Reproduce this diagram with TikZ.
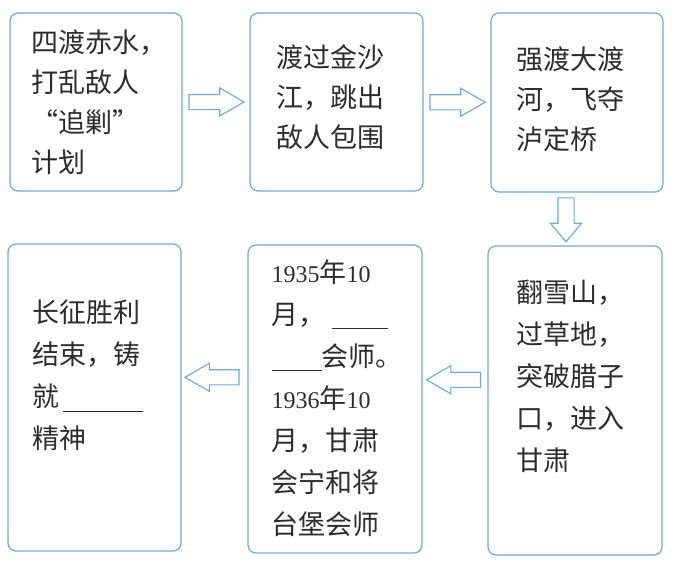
\documentclass[tikz,border=0pt]{standalone}
\usepackage{fontspec}
\setmainfont{Noto Sans CJK SC}
\newfontfamily\numfontfam{Liberation Serif}
\newcommand{\nm}[1]{{\numfontfam\fontsize{24}{40}\selectfont #1}}
\usetikzlibrary{shapes.arrows}
\definecolor{lineblue}{RGB}{105,172,218}
\definecolor{txtgray}{RGB}{45,45,45}
\begin{document}
\begin{tikzpicture}[x=1pt,y=-1pt,
 box/.style={draw=lineblue, line width=1.2pt, rounded corners=8pt, fill=white, inner sep=0pt},
 txt/.style={anchor=base west, inner sep=0pt, text width=150pt, align=left, text=txtgray},
 toptxt/.style={txt, font=\fontsize{27}{40}\selectfont},
 bottxt/.style={txt, font=\fontsize{27}{42}\selectfont},
 barrow/.style={single arrow, draw=lineblue, line width=1.1pt, fill=white, inner sep=0pt,
   text height=14pt, text depth=0pt, text width=14pt,
   minimum height=55pt, single arrow head extend=6.5pt,
   single arrow tip angle=60, single arrow head indent=0pt},
 darrow/.style={barrow, text height=15pt, text width=15pt, minimum height=44pt,
   single arrow head extend=7.5pt, single arrow tip angle=80, shape border rotate=270},
 larrow/.style={barrow, minimum height=54pt, shape border rotate=180}
]
\path[use as bounding box] (0,0) rectangle (676,565);

\node[box, minimum width=172pt, minimum height=178pt] (b1) at (96,102) {};
\node[box, minimum width=173pt, minimum height=178pt] (b2) at (336.5,102) {};
\node[box, minimum width=172pt, minimum height=179pt] (b3) at (577,102.5) {};
\node[box, minimum width=174pt, minimum height=309pt] (b4) at (575,400.5) {};
\node[box, minimum width=174pt, minimum height=308pt] (b5) at (335,399) {};
\node[box, minimum width=173pt, minimum height=307pt] (b6) at (94.5,397.5) {};

\node[toptxt] (t1) at ([shift={(22,40)}]b1.north west)
  {四渡赤水，\\打乱敌人\\“追剿”\\计划};
\node[toptxt] (t2) at ([shift={(27,55)}]b2.north west)
  {渡过金沙\\江，跳出\\敌人包围};
\node[toptxt] (t3) at ([shift={(26,57)}]b3.north west)
  {强渡大渡\\河，飞夺\\泸定桥};
\node[bottxt] (t4) at ([shift={(29,57)}]b4.north west)
  {翻雪山，\\过草地，\\突破腊子\\口，进入\\甘肃};
\node[bottxt] (t5) at ([shift={(24,38)}]b5.north west)
  {\nm{1935}年\nm{10}\\
   月，\hspace{6pt}\rule[-4pt]{56pt}{0.8pt}\\
   \rule[-4pt]{50pt}{0.8pt}会师。\\
   \nm{1936}年\nm{10}\\
   月，甘肃\\
   会宁和将\\
   台堡会师};
\node[bottxt] (t6) at ([shift={(25,79)}]b6.north west)
  {长征胜利\\结束，铸\\就\hspace{3pt}\rule[-5pt]{80pt}{0.8pt}\\精神};

\path (b1.east) -- (b2.west) node[midway, xshift=-6pt, barrow] (a1) {};
\path (b2.east) -- (b3.west) node[midway, xshift=-6pt, barrow] (a2) {};
\path (b3.south) -- (b4.north) node[midway, xshift=-10pt, yshift=4pt, darrow] (a3) {};
\path (b4.west) -- (b5.east) node[midway, yshift=20pt, xshift=5pt, larrow] (a4) {};
\path (b5.west) -- (b6.east) node[midway, yshift=21pt, xshift=4pt, larrow] (a5) {};
\end{tikzpicture}
\end{document}
